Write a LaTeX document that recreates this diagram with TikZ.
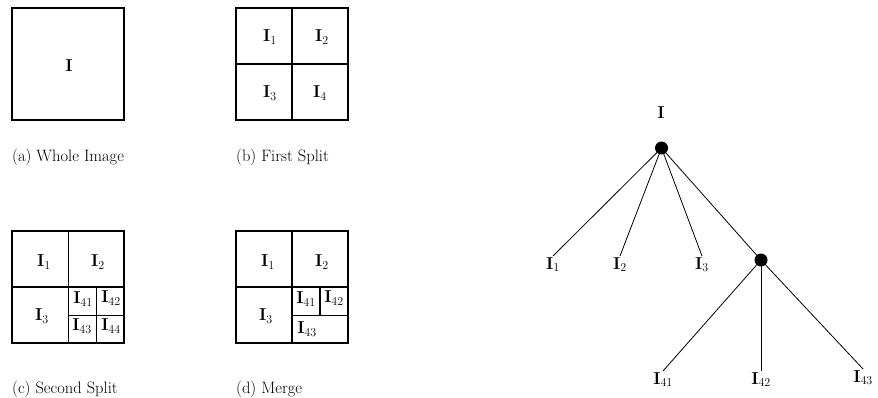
\documentclass[tikz,border=0pt]{standalone}
\usepackage{amsmath}
\begin{document}
\begin{tikzpicture}[x=1pt,y=-1pt,
  box/.style={line width=1.2pt},
  lab/.style={inner sep=0pt,font=\fontsize{17.5}{20}\selectfont},
  capt/.style={inner sep=0pt,anchor=west,font=\fontsize{16.5}{19}\selectfont},
  dot/.style={circle,fill=black,inner sep=0pt,minimum size=13pt},
  tline/.style={line width=0.8pt},
  leaf/.style={inner sep=1pt,anchor=north,font=\fontsize{17.5}{20}\selectfont}]
\useasboundingbox (0,0) rectangle (878,398);
% (a)
\draw[box] (12,8) rectangle (124,120);
\node[lab] (ta) at (69,66) {$\mathbf{I}$};
\node[capt] (ca) at (12,157) {(a) Whole Image};
% (b)
\draw[box] (236,8) rectangle (348,120);
\draw[box] (292,8) -- (292,120);
\draw[box] (236,64) -- (348,64);
\node[lab] (b1) at (270,37) {$\mathbf{I}_1$};
\node[lab] (b2) at (322,37) {$\mathbf{I}_2$};
\node[lab] (b3) at (270,93) {$\mathbf{I}_3$};
\node[lab] (b4) at (320,93) {$\mathbf{I}_4$};
\node[capt] (cb) at (236,157) {(b) First Split};
% (c)
\draw[box] (12,231) rectangle (124,343);
\draw[box] (68.5,231) -- (68.5,343);
\draw[box] (12,287) -- (124,287);
\draw[box] (96.5,287) -- (96.5,343);
\draw[box] (68.5,315.5) -- (124,315.5);
\node[lab] (c1) at (44,262) {$\mathbf{I}_1$};
\node[lab] (c2) at (98,262) {$\mathbf{I}_2$};
\node[lab] (c3) at (42,316) {$\mathbf{I}_3$};
\node[lab] (c41) at (83,299) {$\mathbf{I}_{41}$};
\node[lab] (c42) at (111,298) {$\mathbf{I}_{42}$};
\node[lab] (c43) at (82,326) {$\mathbf{I}_{43}$};
\node[lab] (c44) at (111,326) {$\mathbf{I}_{44}$};
\node[capt] (cc) at (12,389) {(c) Second Split};
% (d)
\draw[box] (236,231) rectangle (348,343);
\draw[box] (292,231) -- (292,343);
\draw[box] (236,287) -- (348,287);
\draw[box] (320,287) -- (320,315.5);
\draw[box] (292,315.5) -- (348,315.5);
\node[lab] (d1) at (268,262) {$\mathbf{I}_1$};
\node[lab] (d2) at (322,262) {$\mathbf{I}_2$};
\node[lab] (d3) at (266,316) {$\mathbf{I}_3$};
\node[lab] (d41) at (306,299) {$\mathbf{I}_{41}$};
\node[lab] (d42) at (334,298) {$\mathbf{I}_{42}$};
\node[lab] (d43) at (307,329) {$\mathbf{I}_{43}$};
\node[capt] (cd) at (236,389) {(d) Merge};
% tree
\node[dot] (root) at (661.5,148) {};
\node[lab] (rl) at (661,113) {$\mathbf{I}$};
\node[dot] (n4) at (761,260) {};
\node[leaf] (t1) at (553,256) {$\mathbf{I}_1$};
\node[leaf] (t2) at (620,256) {$\mathbf{I}_2$};
\node[leaf] (t3) at (702,256) {$\mathbf{I}_3$};
\node[leaf] (t41) at (663,371) {$\mathbf{I}_{41}$};
\node[leaf] (t42) at (761,371) {$\mathbf{I}_{42}$};
\node[leaf] (t43) at (863,369) {$\mathbf{I}_{43}$};
\draw[tline] (root.center) -- (t1.north);
\draw[tline] (root.center) -- (t2.north);
\draw[tline] (root.center) -- (t3.north);
\draw[tline] (root.center) -- (n4.center);
\draw[tline] (n4.center) -- (t41.north);
\draw[tline] (n4.center) -- (t42.north);
\draw[tline] (n4.center) -- (t43.north);
\end{tikzpicture}
\end{document}
